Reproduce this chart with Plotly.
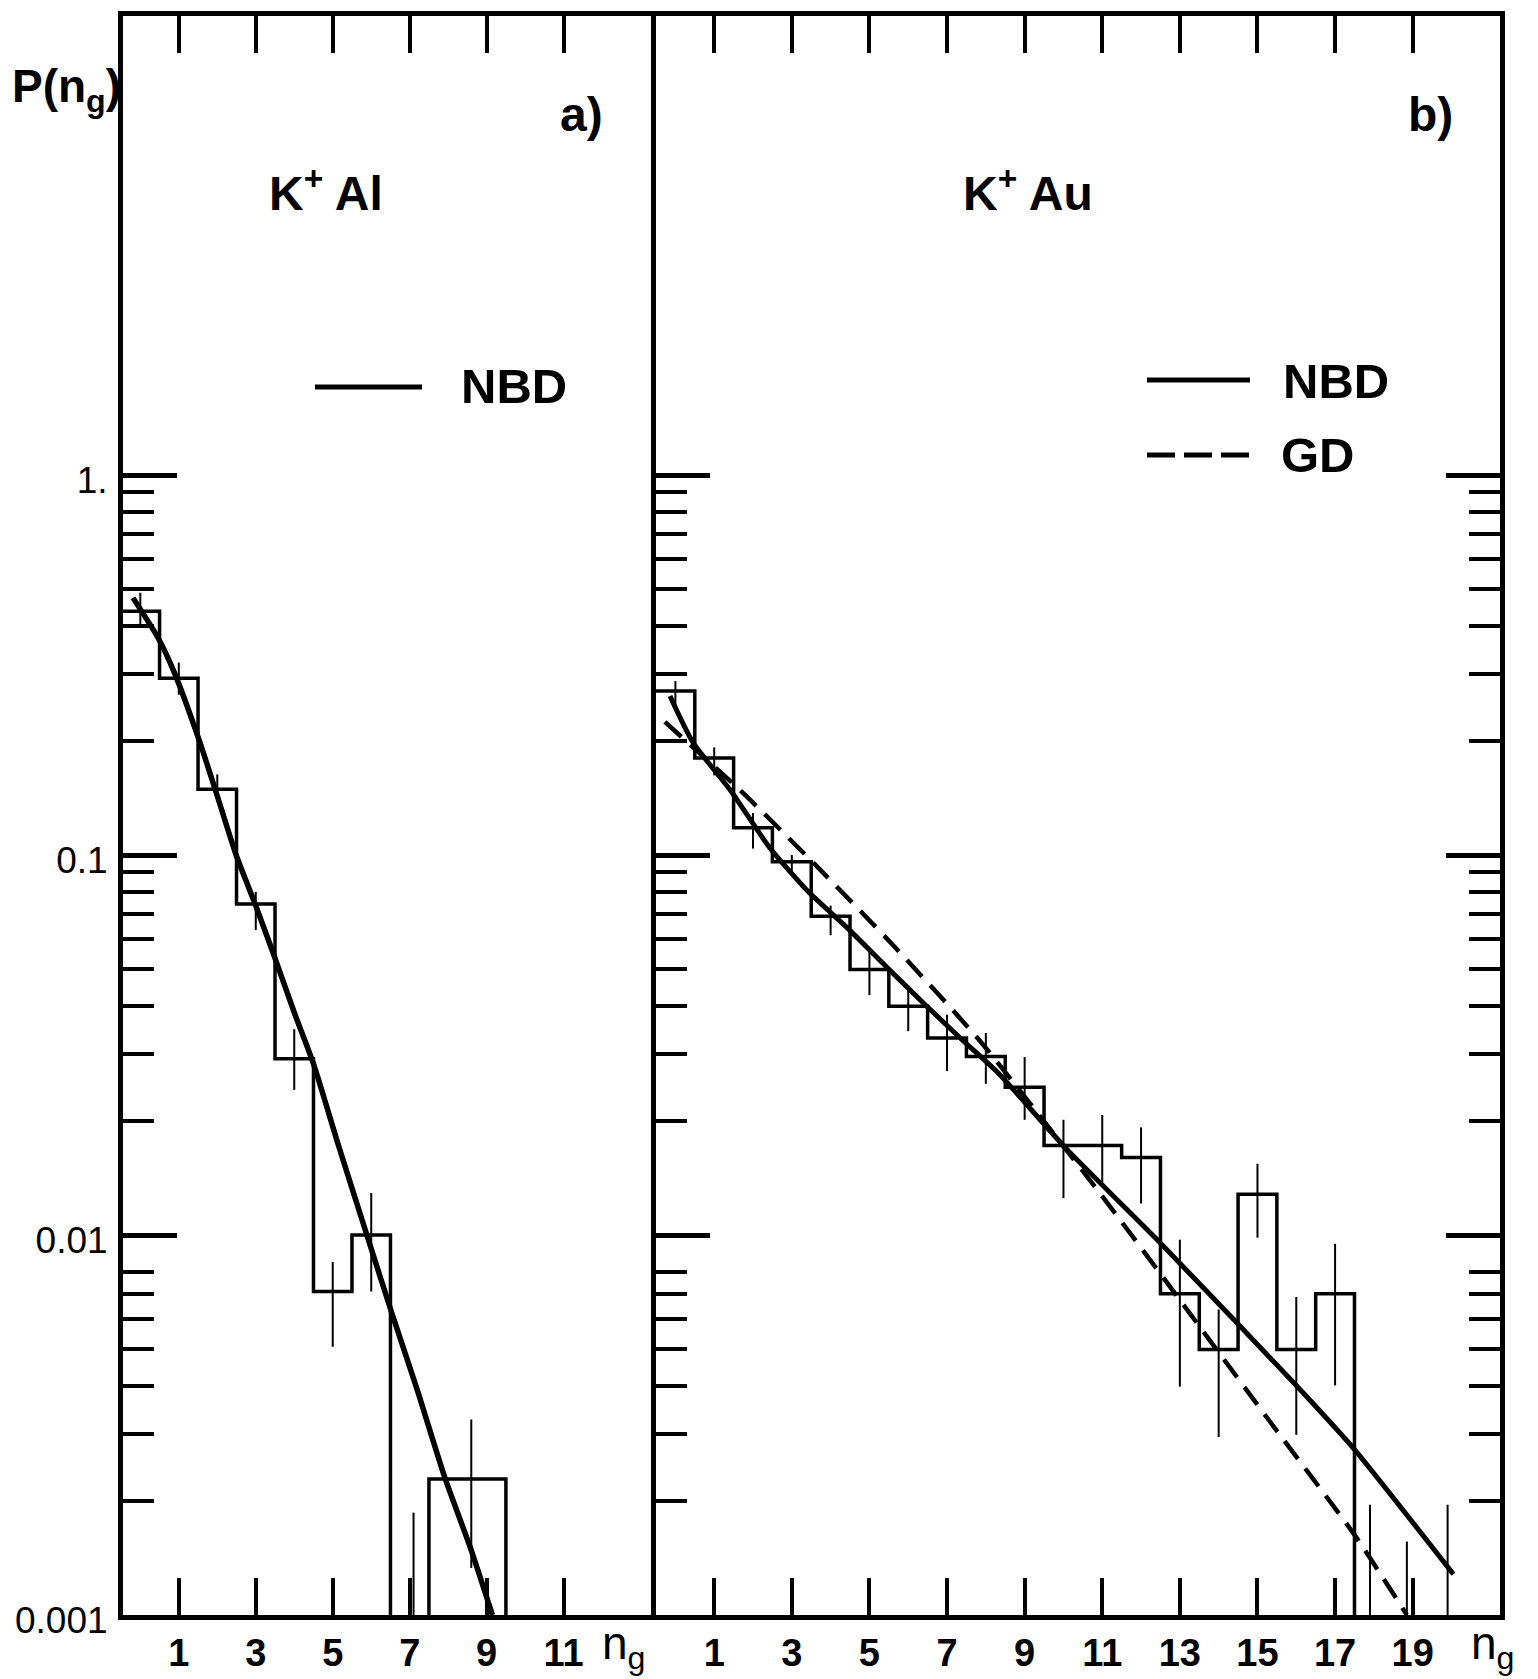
import plotly.graph_objects as go

# ---------------- data ----------------
# panel a) K+ Al : histogram (bin edges / contents), error bars, NBD curve
al_edges = [-0.5, 0.5, 1.5, 2.5, 3.5, 4.5, 5.5, 6.5, 7.5, 9.5]
al_p = [0.438, 0.292, 0.149, 0.0743, 0.0291, 0.0071, 0.0100, 0.0, 0.00228]
al_err_n = [0, 1, 2, 3, 4, 5, 6, 7.1, 8.6]
al_err_lo = [0.404, 0.264, 0.138, 0.0635, 0.0241, 0.00508, 0.0071, 0.0, 0.00133]
al_err_hi = [0.49, 0.321, 0.163, 0.080, 0.0348, 0.00849, 0.0129, 0.00186, 0.00327]
al_nbd_n = [-0.19, 0.46, 0.89, 1.54, 2.0, 2.49, 3.0, 3.5, 4.0, 4.5, 5.15, 5.86, 6.52, 7.2, 7.9, 8.6, 9.15]
al_nbd_p = [0.475, 0.373, 0.301, 0.199, 0.143, 0.100, 0.0735, 0.0535, 0.0385, 0.0282, 0.0172, 0.0102,
            0.0063, 0.0039, 0.00232, 0.00148, 0.00100]

# panel b) K+ Au
au_edges = [-0.5, 0.5, 1.5, 2.5, 3.5, 4.5, 5.5, 6.5, 7.5, 8.5, 9.5, 10.5, 11.5, 12.5, 13.5, 14.5, 15.5, 16.5, 17.5]
au_p = [0.270, 0.180, 0.118, 0.096, 0.069, 0.050, 0.040, 0.033, 0.0295, 0.0245, 0.0172, 0.0172, 0.0160,
        0.0070, 0.0050, 0.0128, 0.0050, 0.0070]
au_err_n = [0, 1, 2, 3, 4, 5, 6, 7, 8, 9, 10, 11, 12, 13, 14, 15, 16, 17, 17.9, 18.85, 19.9]
au_err_lo = [0.242, 0.162, 0.104, 0.089, 0.0615, 0.0428, 0.0344, 0.027, 0.025, 0.0201, 0.0125, 0.0137, 0.0121,
             0.00399, 0.00294, 0.00984, 0.00298, 0.00402, 0.0, 0.0, 0.0]
au_err_hi = [0.287, 0.192, 0.129, 0.100, 0.0736, 0.0556, 0.0455, 0.038, 0.034, 0.0294, 0.0201, 0.0207, 0.0192,
             0.00972, 0.00637, 0.0154, 0.00687, 0.00948, 0.00195, 0.00156, 0.00195]
au_nbd_n = [-0.14, 0.45, 1.44, 2.43, 3.44, 4.41, 5.48, 6.39, 7.38, 8.3, 10.09, 12.38, 14.45, 16.17, 17.47, 20.05]
au_nbd_p = [0.262, 0.198, 0.147, 0.1045, 0.0798, 0.0646, 0.0503, 0.0408, 0.0327, 0.0268, 0.0168, 0.0098,
            0.0059, 0.00385, 0.00275, 0.00128]
au_gd_n = [-0.27, 1.70, 3.59, 5.61, 7.85, 10.96, 12.98, 15.31, 17.51, 18.85]
au_gd_p = [0.224, 0.147, 0.0946, 0.0579, 0.0324, 0.0128, 0.00679, 0.00324, 0.00162, 0.00100]

# axis ticks
x_ticks_a = [1, 3, 5, 7, 9, 11]
x_ticks_b = [1, 3, 5, 7, 9, 11, 13, 15, 17, 19]
y_major = [0.001, 0.01, 0.1, 1.0]
y_major_text = ["0.001", "0.01", "0.1", "1."]
y_minor = [0.002, 0.003, 0.004, 0.005, 0.006, 0.007, 0.008,
           0.02, 0.03, 0.04, 0.05, 0.06, 0.07, 0.08, 0.09,
           0.2, 0.3, 0.4, 0.5, 0.6, 0.7, 0.8, 0.9]

FLOOR = 10 ** -3.4  # below the axis bottom, used for empty bins (clipped)


def step_path(edges, vals):
    xs, ys = [], []
    for i, v in enumerate(vals):
        v = v if v > 0 else FLOOR
        xs += [edges[i], edges[i + 1]]
        ys += [v, v]
    xs.append(edges[-1])
    ys.append(FLOOR)
    return xs, ys


def err_path(ns, lo, hi):
    xs, ys = [], []
    for n, a, b in zip(ns, lo, hi):
        xs += [n, n, None]
        ys += [a if a > 0 else FLOOR, b, None]
    return xs, ys


BLACK = "black"
FONT = "Liberation Sans, Arial, sans-serif"

fig = go.Figure()

# panel a
hx, hy = step_path(al_edges, al_p)
fig.add_trace(go.Scatter(x=hx, y=hy, mode="lines", line=dict(color=BLACK, width=3.5), xaxis="x", yaxis="y"))
ex, ey = err_path(al_err_n, al_err_lo, al_err_hi)
fig.add_trace(go.Scatter(x=ex, y=ey, mode="lines", line=dict(color=BLACK, width=2), xaxis="x", yaxis="y"))
fig.add_trace(go.Scatter(x=al_nbd_n, y=al_nbd_p, mode="lines",
                         line=dict(color=BLACK, width=5.5, shape="spline", smoothing=0.6),
                         xaxis="x", yaxis="y"))

# panel b
hx, hy = step_path(au_edges, au_p)
fig.add_trace(go.Scatter(x=hx, y=hy, mode="lines", line=dict(color=BLACK, width=3.5), xaxis="x2", yaxis="y2"))
ex, ey = err_path(au_err_n, au_err_lo, au_err_hi)
fig.add_trace(go.Scatter(x=ex, y=ey, mode="lines", line=dict(color=BLACK, width=2), xaxis="x2", yaxis="y2"))
fig.add_trace(go.Scatter(x=au_gd_n, y=au_gd_p, mode="lines",
                         line=dict(color=BLACK, width=4.5, dash="22px,12px", shape="spline", smoothing=0.6),
                         xaxis="x2", yaxis="y2"))
fig.add_trace(go.Scatter(x=au_nbd_n, y=au_nbd_p, mode="lines",
                         line=dict(color=BLACK, width=5, shape="spline", smoothing=0.6),
                         xaxis="x2", yaxis="y2"))

W, H = 1538, 1679
XA0, XSPLIT, XB1 = 123 / W, 656 / W, 1500 / W
Y0, Y1 = (H - 1615) / H, (H - 16) / H

common_x = dict(ticks="inside", ticklen=37, tickwidth=4, tickcolor=BLACK, mirror="ticks",
                showline=True, linewidth=5, linecolor=BLACK, showgrid=False, zeroline=False,
                automargin=False,
                tickfont=dict(family=FONT, size=38, color=BLACK, weight="bold"), ticklabelstandoff=0)
common_y = dict(type="log", range=[-3, 1.208], domain=[Y0, Y1], tickmode="array", tickvals=y_major,
                ticks="inside", ticklen=54, tickwidth=4.5, tickcolor=BLACK,
                showline=True, linewidth=5, linecolor=BLACK, showgrid=False, zeroline=False,
                automargin=False,
                minor=dict(tickmode="array", tickvals=y_minor, ticks="inside", ticklen=31, tickwidth=4,
                           tickcolor=BLACK, showgrid=False),
                tickfont=dict(family=FONT, size=37, color=BLACK))

fig.update_layout(
    width=W, height=H, autosize=False,
    margin=dict(l=0, r=0, t=0, b=0, pad=0, autoexpand=False),
    paper_bgcolor="white", plot_bgcolor="white",
    showlegend=False,
    font=dict(family=FONT, color=BLACK),
    xaxis=dict(domain=[XA0, XSPLIT], range=[-0.45, 13.4], tickmode="array", tickvals=x_ticks_a,
               anchor="y", **common_x),
    xaxis2=dict(domain=[XSPLIT, XB1], range=[-0.5, 21.25], tickmode="array", tickvals=x_ticks_b,
                anchor="y2", **common_x),
    yaxis=dict(anchor="x", mirror=False, ticktext=y_major_text, showticklabels=True,
               ticklabelstandoff=3, ticklabelshift=5, **common_y),
    yaxis2=dict(anchor="x2", mirror="ticks", showticklabels=False, **common_y),
)


def px(x):
    return x / W


def py(y):
    return (H - y) / H


def label(text, x, y, size, bold=True):
    fig.add_annotation(text=text, x=px(x), y=py(y), xref="paper", yref="paper", showarrow=False,
                       xanchor="center", yanchor="middle",
                       font=dict(family=FONT, size=size, color=BLACK, weight="bold" if bold else "normal"))


label("P(n<sub>g</sub>)", 66, 90, 46)
label("a)", 581, 114, 48)
label("K<sup>+</sup> Al", 326, 190, 48)
label("NBD", 514, 386, 49)
label("b)", 1430, 114, 48)
label("K<sup>+</sup> Au", 1028, 190, 48)
label("NBD", 1336, 381, 49)
label("GD", 1318, 455, 49)
label("n<sub>g</sub>", 624, 1646, 46, bold=False)
label("n<sub>g</sub>", 1493, 1646, 46, bold=False)

# legend samples
fig.add_shape(type="line", xref="paper", yref="paper", x0=px(315), x1=px(422), y0=py(387), y1=py(387),
              line=dict(color=BLACK, width=5))
fig.add_shape(type="line", xref="paper", yref="paper", x0=px(1147), x1=px(1250), y0=py(380), y1=py(380),
              line=dict(color=BLACK, width=5))
fig.add_shape(type="line", xref="paper", yref="paper", x0=px(1147), x1=px(1250), y0=py(455), y1=py(455),
              line=dict(color=BLACK, width=5, dash="28px,9px"))

fig.write_html("out.html")
